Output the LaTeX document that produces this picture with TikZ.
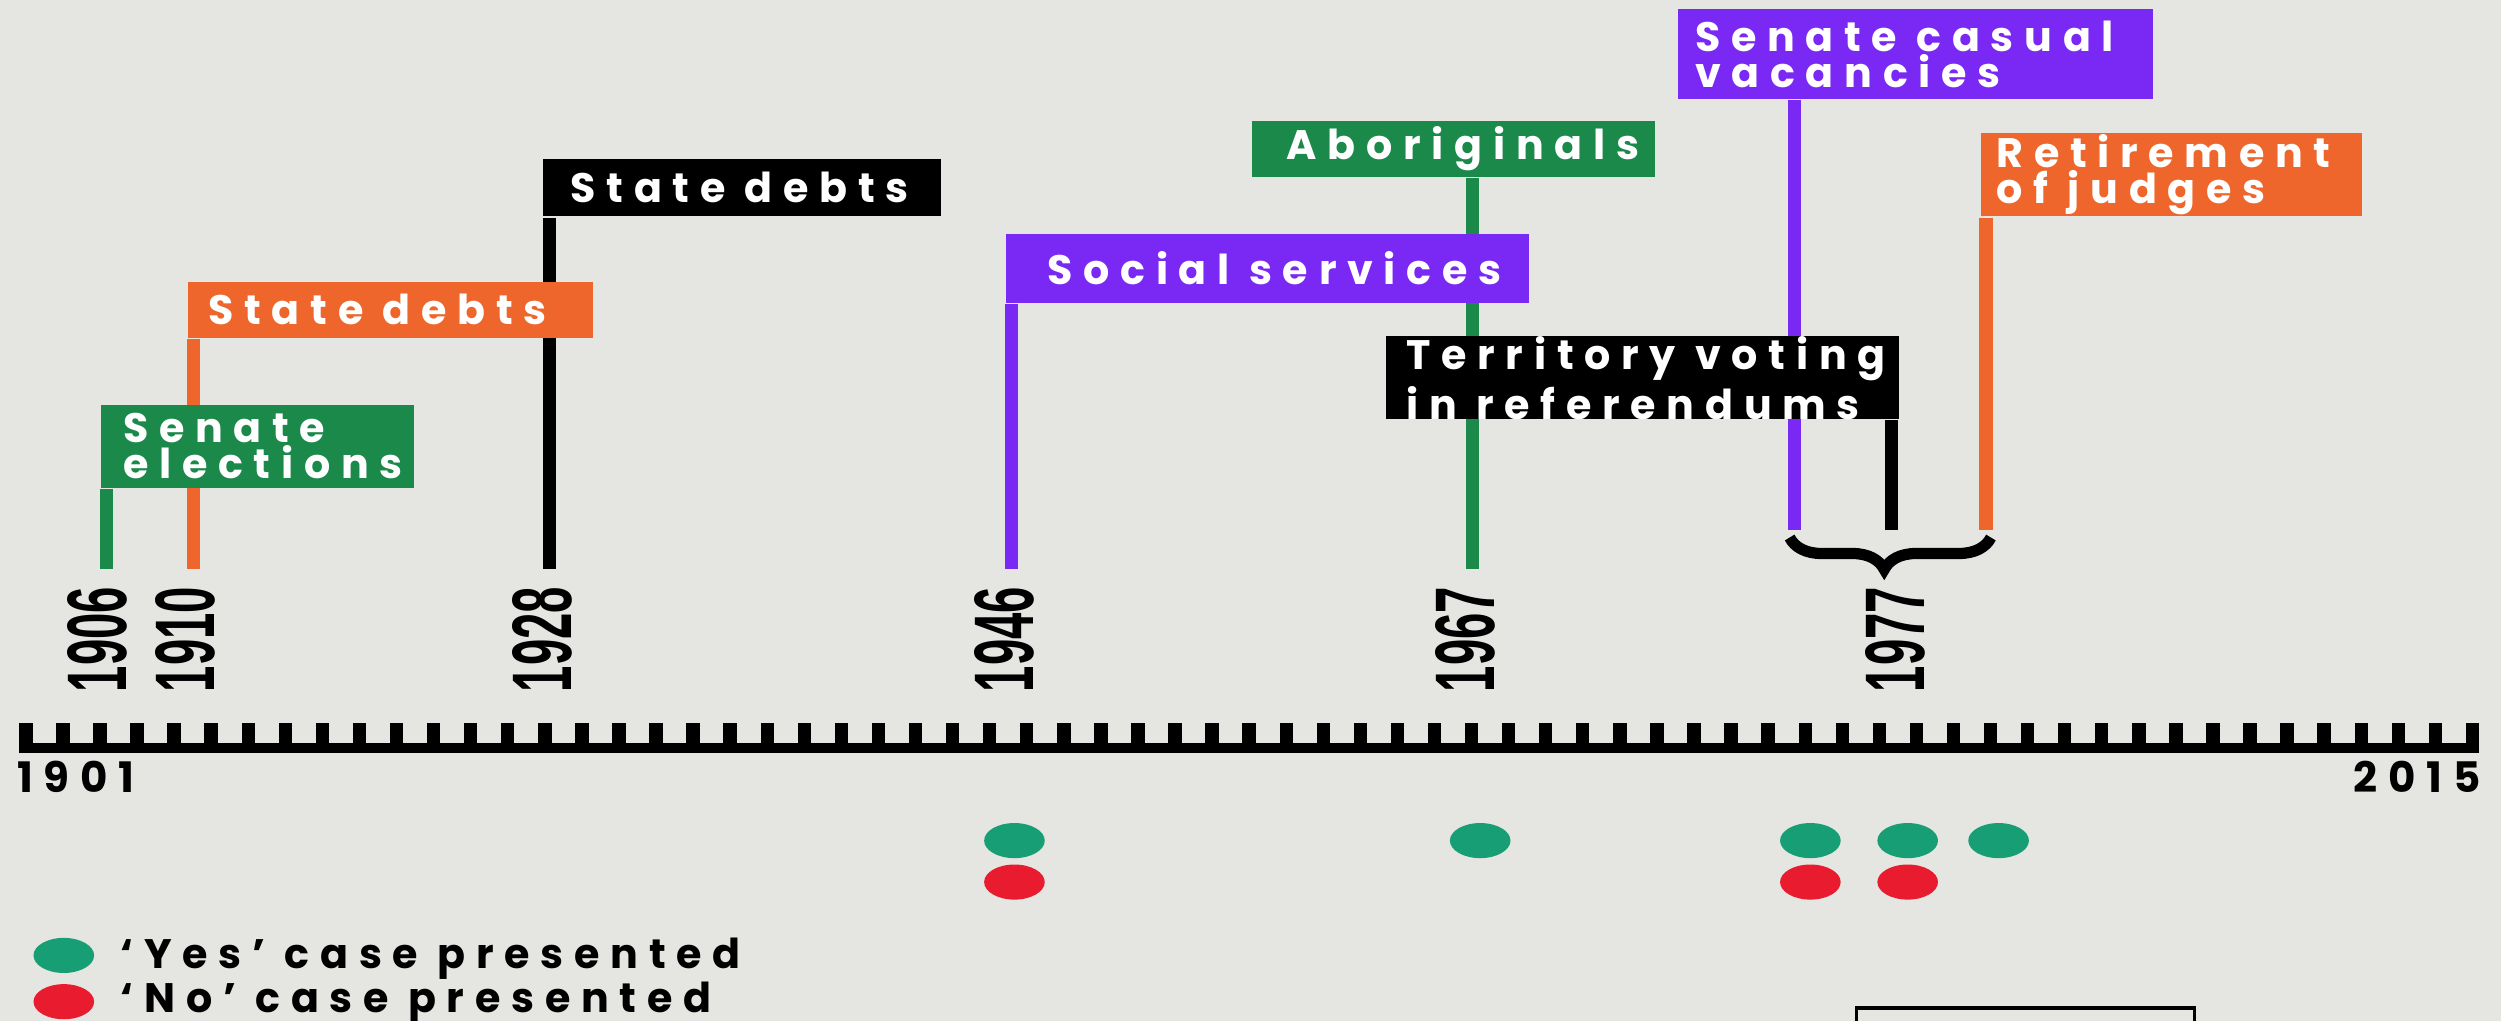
\documentclass[tikz,border=0pt]{standalone}
\usepackage{fontspec}
\setmainfont{Poppins}
\newfontfamily\flagfont[LetterSpace=26]{Poppins}
\newfontfamily\yearfont{Liberation Sans}
\usetikzlibrary{shapes.geometric,decorations.pathreplacing}
\definecolor{paper}{RGB}{229,229,225}
\definecolor{flaggreen}{RGB}{26,137,74}
\definecolor{flagorange}{RGB}{238,102,43}
\definecolor{flagpurple}{RGB}{122,41,245}
\definecolor{dotgreen}{RGB}{23,158,117}
\definecolor{dotred}{RGB}{232,28,46}
\newcommand{\yearlabel}[1]{\resizebox{0.66cm}{0.37cm}{\yearfont\bfseries #1}}
\newcommand{\wordgap}{\hspace{0.47em}}

\begin{document}
\begin{tikzpicture}[
    flag/.style={fill=#1, text=white, anchor=north west, inner ysep=0pt,
      font=\flagfont\bfseries\fontsize{7.35}{6.5}\selectfont},
    pole/.style={draw=#1, line width=2.4pt},
    year/.style={rotate=90, inner sep=0pt},
    dot/.style={ellipse, fill=#1, minimum width=0.38cm, minimum height=0.22cm, inner sep=0pt},
    curly/.style={decorate, decoration={brace, mirror, amplitude=0.2cm, aspect=0.47}, line width=2pt},
    axislabel/.style={font=\flagfont\bfseries\fontsize{7.5}{8}\selectfont, inner sep=0pt},
    legend/.style={font=\flagfont\bfseries\fontsize{7.35}{8}\selectfont, anchor=base west, inner sep=0pt}
  ]
  \useasboundingbox (0,0) rectangle (15.68,6.40);
  \fill[paper] (0,0) rectangle (15.68,6.40);

  \coordinate (y1906) at (0.667,2.83);
  \coordinate (y1910) at (1.212,2.83);
  \coordinate (y1928) at (3.445,2.83);
  \coordinate (y1946) at (6.342,2.83);
  \coordinate (y1967) at (9.23,2.83);
  \coordinate (y1977a) at (11.25,3.08);
  \coordinate (y1977b) at (11.858,3.08);
  \coordinate (y1977c) at (12.452,3.08);

  \node[flag=black, text width=2.15cm, minimum height=0.36cm, inner xsep=0.17cm] (debts28) at (3.40,5.41) {\mbox{State\wordgap debts}};
  \draw[pole=black] (y1928 |- debts28.south) -- (y1928);
  \node[flag=flagorange, text width=2.28cm, minimum height=0.35cm, inner xsep=0.13cm] (debts10) at (1.17,4.64) {\mbox{State\wordgap debts}};
  \draw[pole=flagorange] (y1910 |- debts10.south) -- (y1910);
  \node[flag=flaggreen, text width=1.685cm, minimum height=0.52cm, inner xsep=0.14cm] (senate06) at (0.625,3.87) {Senate\\elections};
  \draw[pole=flaggreen] (y1906 |- senate06.south) -- (y1906);

  \node[flag=flaggreen, text width=2.09cm, minimum height=0.35cm, inner xsep=0.22cm] (abor67) at (7.84,5.65) {Aboriginals};
  \draw[pole=flaggreen] (y1967 |- abor67.south) -- (y1967);
  \node[flag=flagpurple, text width=2.76cm, minimum height=0.43cm, inner xsep=0.26cm] (social46) at (6.30,4.94) {\mbox{Social\wordgap services}};
  \draw[pole=flagpurple] (y1946 |- social46.south) -- (y1946);

  \node[flag=flagpurple, text width=2.76cm, minimum height=0.565cm, inner xsep=0.11cm] (casual77) at (10.51,6.35) {\mbox{Senate\wordgap casual}\\vacancies};
  \draw[pole=flagpurple] (y1977a |- casual77.south) -- (y1977a);
  \node[flag=black, text width=2.96cm, minimum height=0.52cm, inner xsep=0.13cm] (terr77) at (8.68,4.30) {\mbox{Territory\wordgap voting}\\\mbox{in\wordgap referendums}};
  \draw[pole=black] (y1977b |- terr77.south) -- (y1977b);
  \node[flag=flagorange, text width=2.19cm, minimum height=0.525cm, inner xsep=0.10cm] (judges77) at (12.41,5.575) {Retirement\\\mbox{of\wordgap judges}};
  \draw[pole=flagorange] (y1977c |- judges77.south) -- (y1977c);

  \draw[curly] ([shift={(-0.03,-0.05)}]y1977a) -- ([shift={(0.03,-0.05)}]y1977c);

  \node[year] (t1906) at (0.61,2.39) {\yearlabel{1906}};
  \node[year] (t1910) at (1.16,2.39) {\yearlabel{1910}};
  \node[year] (t1928) at (3.40,2.39) {\yearlabel{1928}};
  \node[year] (t1946) at (6.30,2.39) {\yearlabel{1946}};
  \node[year] (t1967) at (9.19,2.39) {\yearlabel{1967}};
  \node[year] (t1977) at (11.88,2.39) {\yearlabel{1977}};

  \fill (0.12,1.68) rectangle (15.54,1.74);
  \foreach \i in {0,...,66}
    \fill ({0.12+\i*0.2324},1.72) rectangle ++(0.084,0.15);
  \node[axislabel, anchor=base west] (lab1901) at (0.10,1.43) {1901};
  \node[axislabel, anchor=base east] (lab2015) at (15.56,1.43) {2015};

  \node[dot=dotgreen] (yes46) at (6.36,1.13) {};
  \node[dot=dotred] (no46) at (6.36,0.87) {};
  \node[dot=dotgreen] (yes67) at (9.28,1.13) {};
  \node[dot=dotgreen] (yes77a) at (11.35,1.13) {};
  \node[dot=dotred] (no77a) at (11.35,0.87) {};
  \node[dot=dotgreen] (yes77b) at (11.96,1.13) {};
  \node[dot=dotred] (no77b) at (11.96,0.87) {};
  \node[dot=dotgreen] (yes77c) at (12.53,1.13) {};

  \node[dot=dotgreen] (keyyes) at (0.40,0.41) {};
  \node[dot=dotred] (keyno) at (0.40,0.12) {};
  \node[legend] (textyes) at (0.75,0.33) {‘Yes’ case presented};
  \node[legend] (textno) at (0.75,0.05) {‘No’ case presented};

  \draw[line width=0.6pt] (11.64,-0.3) rectangle (13.76,0.08);
\end{tikzpicture}
\end{document}
